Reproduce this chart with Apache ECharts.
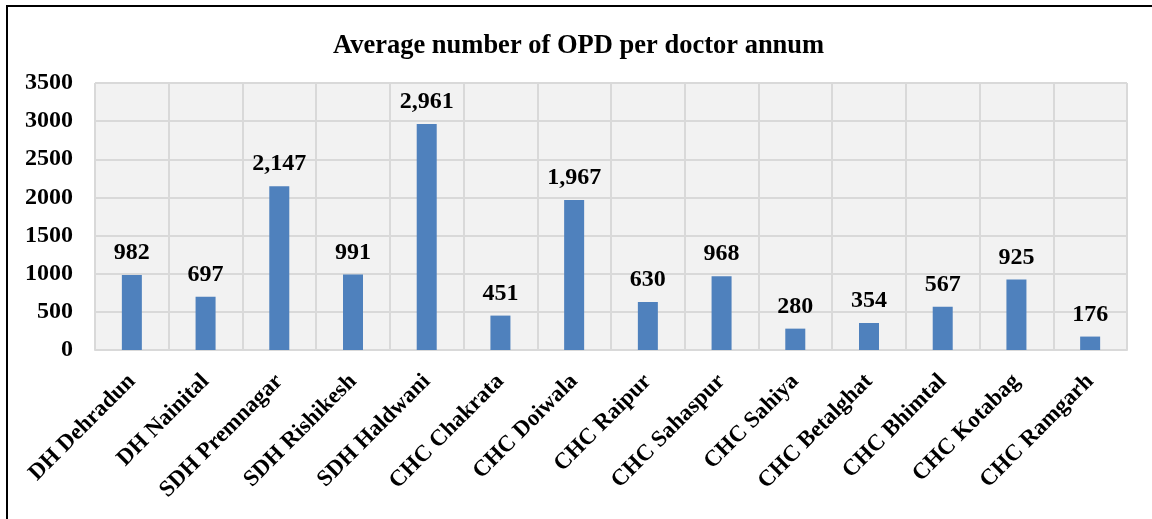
<!DOCTYPE html>
<html>
<head>
<meta charset="utf-8">
<script src="https://cdn.jsdelivr.net/npm/echarts@6/dist/echarts.min.js"></script>
<style>
  html, body { margin: 0; padding: 0; background: #fff; }
  #frame {
    position: absolute; left: 6px; top: 5px; width: 1160px; height: 530px;
    border-left: 2px solid #000; border-top: 2px solid #000; box-sizing: border-box;
  }
  #chart { position: absolute; left: 0; top: 0; width: 1152px; height: 519px; }
</style>
</head>
<body>
<div id="frame"></div>
<div id="chart"></div>
<script>
// 各医院名称与平均门诊量
const facilities = [
  'DH Dehradun', 'DH Nainital', 'SDH Premnagar', 'SDH Rishikesh', 'SDH Haldwani',
  'CHC Chakrata', 'CHC Doiwala', 'CHC Raipur', 'CHC Sahaspur', 'CHC Sahiya',
  'CHC Betalghat', 'CHC Bhimtal', 'CHC Kotabag', 'CHC Ramgarh'
];
const opdPerDoctor = [982, 697, 2147, 991, 2961, 451, 1967, 630, 968, 280, 354, 567, 925, 176];

const serif = '"Liberation Serif", "DejaVu Serif", serif';

const chart = echarts.init(document.getElementById('chart'));

chart.setOption({
  backgroundColor: 'transparent',
  animation: false,
  title: {
    text: 'Average number of OPD per doctor annum',
    left: 328,
    top: 28,
    textStyle: { fontFamily: serif, fontWeight: 'bold', fontSize: 26.5, color: '#000' }
  },
  grid: {
    left: 95, right: 25, top: 83, bottom: 169,
    show: true,
    backgroundColor: '#F2F2F2',
    borderWidth: 0
  },
  xAxis: {
    type: 'category',
    data: facilities,
    axisLine: { lineStyle: { color: '#D9D9D9', width: 2 } },
    axisTick: { show: false },
    splitLine: { show: true, interval: 0, lineStyle: { color: '#D9D9D9', width: 2 } },
    axisLabel: {
      interval: 0, rotate: 45, margin: 28,
      fontFamily: serif, fontWeight: 'bold', fontSize: 23, color: '#000'
    }
  },
  yAxis: {
    type: 'value',
    min: 0, max: 3500, interval: 500,
    axisLine: { show: false },
    axisTick: { show: false },
    splitLine: { lineStyle: { color: '#D9D9D9', width: 2 } },
    axisLabel: {
      margin: 22,
      fontFamily: serif, fontWeight: 'bold', fontSize: 24, color: '#000',
      formatter: v => String(v)
    }
  },
  series: [{
    type: 'bar',
    data: opdPerDoctor,
    barWidth: 20,
    itemStyle: { color: '#4F81BD' },
    label: {
      show: true, position: 'top', distance: 10,
      fontFamily: serif, fontWeight: 'bold', fontSize: 24, color: '#000',
      formatter: p => p.value.toLocaleString('en-US')
    }
  }]
});
</script>
</body>
</html>
